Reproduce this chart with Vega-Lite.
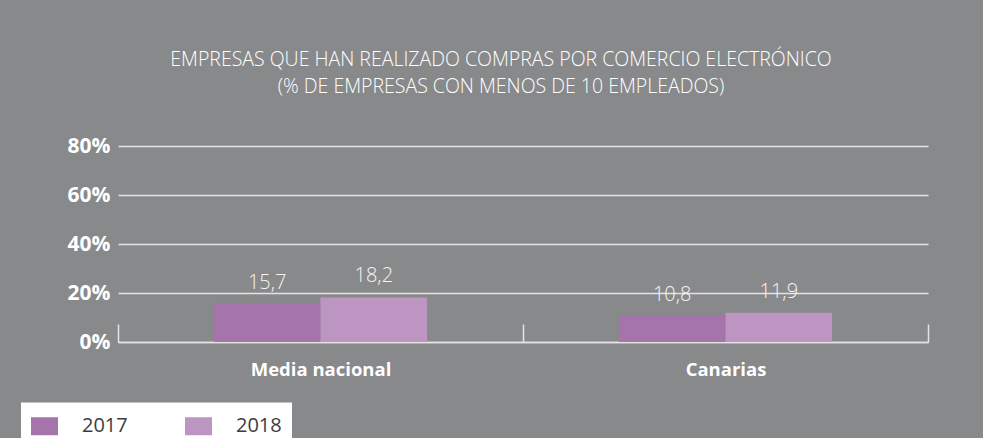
{
  "$schema": "https://vega.github.io/schema/vega-lite/v6.json",
  "autosize": {"type": "none"},
  "width": 810,
  "height": 196,
  "padding": {"left": 118, "top": 146, "right": 55, "bottom": 96},
  "background": "#88898b",
  "title": {
    "text": ["EMPRESAS QUE HAN REALIZADO COMPRAS POR COMERCIO ELECTRÓNICO", "(% DE EMPRESAS CON MENOS DE 10 EMPLEADOS)"],
    "anchor": "middle",
    "frame": "group",
    "dx": -22,
    "offset": 38,
    "font": "Open Sans",
    "fontWeight": 300,
    "fontSize": 19.5,
    "lineHeight": 27,
    "color": "#ffffff"
  },
  "data": {
    "values": [
      {"region": "Media nacional", "year": "2017", "value": 15.7},
      {"region": "Media nacional", "year": "2018", "value": 18.2},
      {"region": "Canarias", "year": "2017", "value": 10.8},
      {"region": "Canarias", "year": "2018", "value": 11.9}
    ]
  },
  "encoding": {
    "x": {
      "field": "region",
      "type": "nominal",
      "sort": ["Media nacional", "Canarias"],
      "scale": {"paddingInner": 0, "paddingOuter": 0},
      "axis": {
        "title": null,
        "labelAngle": 0,
        "grid": false,
        "domainColor": "#e4e4e4",
        "domainWidth": 1.5,
        "tickColor": "#e4e4e4",
        "tickWidth": 1.5,
        "tickSize": -18,
        "tickBand": "extent",
        "labelColor": "#ffffff",
        "labelFont": "Open Sans",
        "labelFontWeight": "bold",
        "labelFontSize": 18.5,
        "labelPadding": 36
      }
    },
    "xOffset": {
      "field": "year",
      "type": "nominal",
      "scale": {"paddingInner": 0, "paddingOuter": 0.9}
    },
    "y": {
      "field": "value",
      "type": "quantitative",
      "scale": {"domain": [0, 80], "nice": false},
      "axis": {
        "title": null,
        "values": [0, 20, 40, 60, 80],
        "labelExpr": "datum.value + '%'",
        "grid": true,
        "gridColor": "#e4e4e4",
        "gridWidth": 1.5,
        "domain": false,
        "ticks": false,
        "labelPadding": 8,
        "labelColor": "#ffffff",
        "labelFont": "Open Sans",
        "labelFontWeight": "bold",
        "labelFontSize": 21
      }
    }
  },
  "layer": [
    {
      "mark": {"type": "bar"},
      "encoding": {
        "color": {
          "field": "year",
          "type": "nominal",
          "scale": {"domain": ["2017", "2018"], "range": ["#a474ab", "#bc95c3"]},
          "legend": {
            "title": null,
            "orient": "none",
            "direction": "horizontal",
            "legendX": -97,
            "legendY": 256.5,
            "padding": 10,
            "fillColor": "#ffffff",
            "symbolType": "M-1,-0.667H1V0.667H-1Z",
            "symbolSize": 729,
            "symbolStrokeWidth": 0,
            "symbolOpacity": 1,
            "labelOffset": 24,
            "columnPadding": 57,
            "labelFont": "Open Sans",
            "labelFontSize": 20,
            "labelColor": "#3d3d3d"
          }
        }
      }
    },
    {
      "mark": {
        "type": "text",
        "baseline": "alphabetic",
        "dy": -15,
        "font": "Open Sans",
        "fontWeight": 300,
        "fontSize": 20,
        "color": "#f4f4f4"
      },
      "encoding": {
        "text": {"field": "value", "type": "quantitative", "format": ".1f"}
      }
    }
  ],
  "config": {
    "view": {"stroke": null},
    "locale": {
      "number": {"decimal": ",", "thousands": ".", "grouping": [3], "currency": ["", " €"]}
    }
  }
}
